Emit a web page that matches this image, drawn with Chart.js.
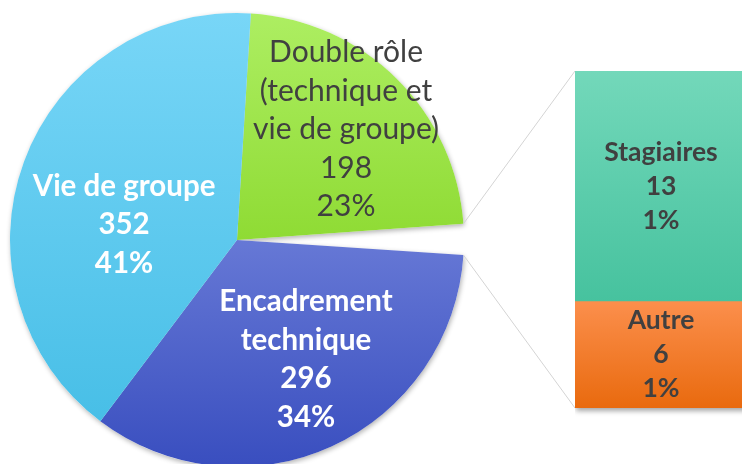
<!DOCTYPE html>
<html>
<head>
<meta charset="utf-8">
<script src="https://cdn.jsdelivr.net/npm/chart.js@4"></script>
<style>
  html, body { margin: 0; padding: 0; background: #fff; overflow: hidden; width: 742px; height: 464px; }
  #pieChart { position: absolute; left: 0; top: 0; }
  #barChart { position: absolute; left: 575px; top: 71px; }
</style>
</head>
<body>
<canvas id="pieChart" width="742" height="480"></canvas>
<canvas id="barChart" width="172" height="347"></canvas>
<script>
// pie: the "Autres" slice is the one broken out into the bar on the right
const pieCategories = ["Double rôle (technique et vie de groupe)", "Autres", "Encadrement technique", "Vie de groupe"];
const pieValues = [198, 19, 296, 352];
const piePercents = ["23%", "", "34%", "41%"];
const pieLabelLines = [["Double rôle", "(technique et", "vie de groupe)"], [], ["Encadrement", "technique"], ["Vie de groupe"]];

// bar of the small slices
const barCategories = ["Stagiaires", "Autre"];
const barValues = [13, 6];
const barPercents = ["1%", "1%"];

const darkText = "#404040";

// where each pie label sits: fraction of radius, angle clockwise from top
const pieLabelPos = [[0.684, 44.6], null, [0.608, 150], [0.502, 277.6]];
const pieLabelStyle = [
  { color: darkText, font: "normal 30px Lato" },
  null,
  { color: "#ffffff", font: "bold 29.5px Lato" },
  { color: "#ffffff", font: "bold 29.5px Lato" }
];

// gradient stops over the pie height, per slice
const pieGradients = [
  [[0, "#adee62"], [0.5, "#8fdb34"]],
  null,
  [[0.49, "#6779d6"], [1, "#394ebf"]],
  [[0, "#78d6f7"], [1, "#42bce5"]]
];

function pieColor(c) {
  const stops = pieGradients[c.dataIndex];
  if (!stops) return "rgba(0,0,0,0)";
  const { ctx, chartArea } = c.chart;
  if (!chartArea) return stops[0][1];
  const g = ctx.createLinearGradient(0, chartArea.top, 0, chartArea.bottom);
  stops.forEach(s => g.addColorStop(s[0], s[1]));
  return g;
}

function barColor(top, bottom, from, to) {
  return function (c) {
    const { ctx, chartArea } = c.chart;
    if (!chartArea) return top;
    const g = ctx.createLinearGradient(0, chartArea.top, 0, chartArea.bottom);
    g.addColorStop(from, top);
    g.addColorStop(to, bottom);
    return g;
  };
}

function drawLines(ctx, lines, x, y, lineHeight) {
  const startY = y - (lines.length - 1) * lineHeight / 2;
  lines.forEach((t, i) => ctx.fillText(t, x, startY + i * lineHeight));
}

// stacked bar: first dataset sits at the bottom, so reverse the order
const barCanvas = document.getElementById("barChart");
const barChart = new Chart(barCanvas, {
  type: "bar",
  data: {
    labels: [""],
    datasets: [
      {
        label: barCategories[1],
        data: [barValues[1]],
        backgroundColor: barColor("#fb8e4b", "#e96a0e", 0.69, 1)
      },
      {
        label: barCategories[0],
        data: [barValues[0]],
        backgroundColor: barColor("#73d8ba", "#46c29e", 0, 0.69)
      }
    ]
  },
  options: {
    responsive: false,
    animation: false,
    layout: { padding: { left: 0, right: 0, top: 0, bottom: 10 } },
    datasets: { bar: { barPercentage: 1, categoryPercentage: 1, borderWidth: 0 } },
    events: [],
    plugins: { legend: { display: false }, tooltip: { enabled: false } },
    scales: {
      x: { display: false, stacked: true },
      y: { display: false, stacked: true, min: 0, max: barValues[0] + barValues[1] }
    }
  },
  plugins: [{
    id: "barShadow",
    beforeDatasetsDraw(chart) {
      const ctx = chart.ctx;
      const a = chart.chartArea;
      ctx.save();
      ctx.shadowColor = "rgba(0,0,0,0.35)";
      ctx.shadowBlur = 5;
      ctx.shadowOffsetX = 1;
      ctx.shadowOffsetY = 3;
      ctx.fillStyle = "#ffffff";
      ctx.fillRect(a.left, a.top, a.right - a.left, a.bottom - a.top);
      ctx.restore();
    },
    afterDatasetsDraw(chart) {
      const ctx = chart.ctx;
      ctx.save();
      ctx.fillStyle = darkText;
      ctx.font = "bold 26.5px Lato";
      ctx.textAlign = "center";
      ctx.textBaseline = "middle";
      chart.data.datasets.forEach((ds, di) => {
        const el = chart.getDatasetMeta(di).data[0];
        const k = barCategories.indexOf(ds.label);
        const cy = (el.y + el.base) / 2;
        drawLines(ctx, [barCategories[k], String(barValues[k]), barPercents[k]], el.x, cy, 34);
      });
      ctx.restore();
    }
  }]
});

new Chart(document.getElementById("pieChart"), {
  type: "pie",
  data: {
    labels: pieCategories,
    datasets: [{
      data: pieValues,
      backgroundColor: pieColor,
      borderWidth: 0,
      hoverOffset: 0
    }]
  },
  options: {
    responsive: false,
    animation: false,
    rotation: 3.5,
    events: [],
    layout: { padding: { left: 10, top: 13, right: 278, bottom: 13 } },
    plugins: { legend: { display: false }, tooltip: { enabled: false } }
  },
  plugins: [{
    id: "pieExtras",
    beforeDatasetsDraw(chart) {
      // soft shadow behind the visible slices
      const ctx = chart.ctx;
      ctx.save();
      ctx.shadowColor = "rgba(0,0,0,0.3)";
      ctx.shadowBlur = 5;
      ctx.shadowOffsetX = 1;
      ctx.shadowOffsetY = 2;
      ctx.fillStyle = "#ffffff";
      chart.getDatasetMeta(0).data.forEach((el, i) => {
        if (!pieGradients[i]) return;
        ctx.beginPath();
        ctx.moveTo(el.x, el.y);
        ctx.arc(el.x, el.y, el.outerRadius, el.startAngle, el.endAngle);
        ctx.closePath();
        ctx.fill();
      });
      ctx.restore();
    },
    afterDatasetsDraw(chart) {
      const ctx = chart.ctx;
      const els = chart.getDatasetMeta(0).data;
      ctx.save();
      ctx.textAlign = "center";
      ctx.textBaseline = "middle";
      els.forEach((el, i) => {
        const pos = pieLabelPos[i];
        if (!pos) return;
        const a = pos[1] * Math.PI / 180;
        const r = el.outerRadius * pos[0];
        const x = el.x + r * Math.sin(a);
        const y = el.y - r * Math.cos(a);
        const st = pieLabelStyle[i];
        ctx.fillStyle = st.color;
        ctx.font = st.font;
        drawLines(ctx, pieLabelLines[i].concat([String(pieValues[i]), piePercents[i]]), x, y, 38.5);
      });

      // connector lines from the broken-out slice to the bar
      const other = els[1];
      const R = other.outerRadius;
      const p1 = [other.x + R * Math.cos(other.startAngle), other.y + R * Math.sin(other.startAngle)];
      const p2 = [other.x + R * Math.cos(other.endAngle), other.y + R * Math.sin(other.endAngle)];
      const topEl = barChart.getDatasetMeta(1).data[0];
      const botEl = barChart.getDatasetMeta(0).data[0];
      const ox = barCanvas.offsetLeft, oy = barCanvas.offsetTop;
      ctx.strokeStyle = "#d4d4d4";
      ctx.lineWidth = 1;
      ctx.beginPath();
      ctx.moveTo(p1[0], p1[1]);
      ctx.lineTo(ox + topEl.x - topEl.width / 2, oy + topEl.y);
      ctx.moveTo(p2[0], p2[1]);
      ctx.lineTo(ox + botEl.x - botEl.width / 2, oy + botEl.base);
      ctx.stroke();
      ctx.restore();
    }
  }]
});
</script>
</body>
</html>
